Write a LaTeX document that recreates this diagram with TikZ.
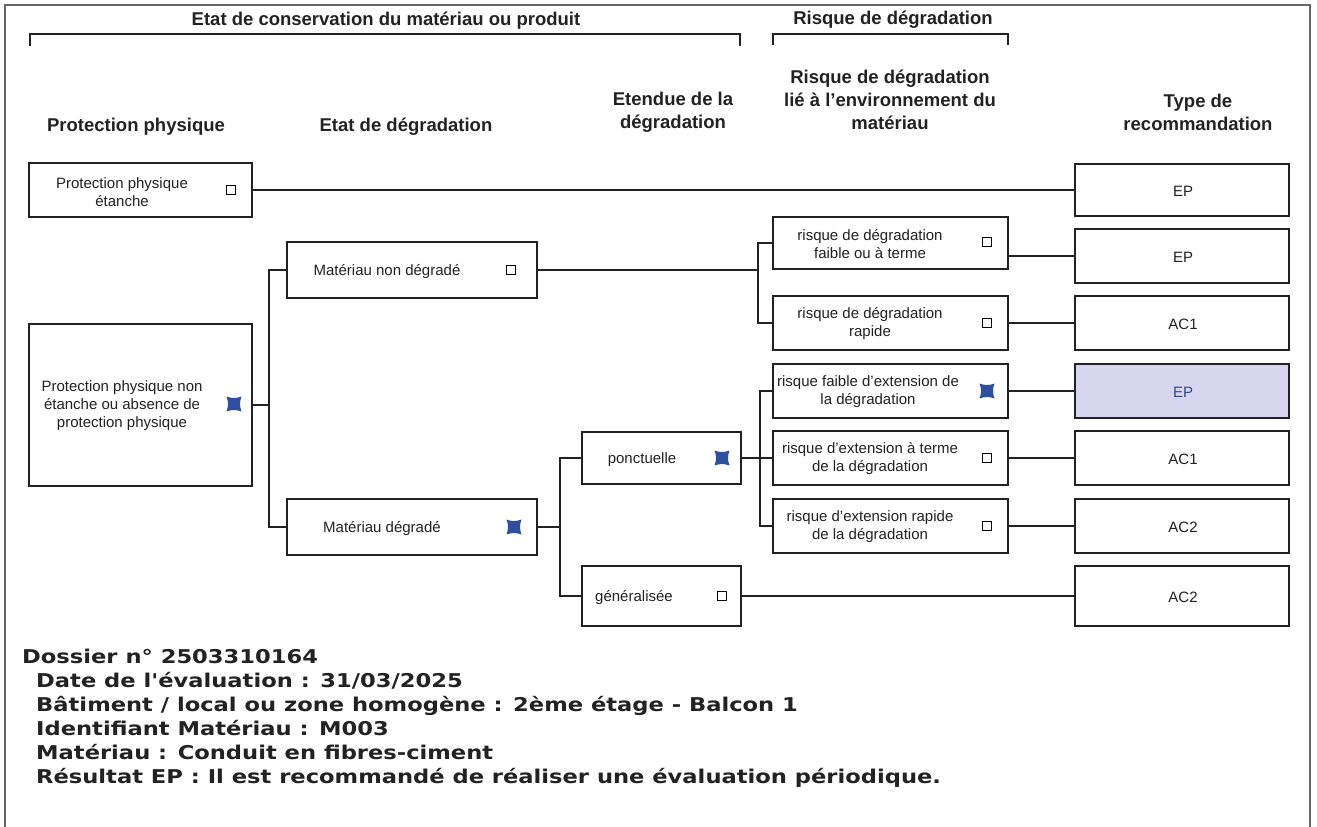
\documentclass[tikz,border=0pt]{standalone}
\usepackage{fontspec}
\setmainfont{Liberation Sans}
\newfontfamily\infofont[FakeStretch=1.19]{DejaVu Sans Bold}
\usetikzlibrary{calc}
\definecolor{ln}{HTML}{222222}
\definecolor{ckblue}{HTML}{2E4E9E}
\definecolor{hl}{HTML}{D8D5F0}
\definecolor{hltext}{HTML}{2C4A86}
\definecolor{framec}{HTML}{666666}
\tikzset{
  box/.style={draw=ln, line width=2pt, inner sep=0pt, fill=white},
  conn/.style={draw=ln, line width=2pt},
  brk/.style={draw=ln, line width=2pt},
  lbl/.style={font=\fontsize{15}{18}\selectfont, align=center, inner sep=0pt, text=ln},
  hdr/.style={font=\bfseries\fontsize{18.5}{23}\selectfont, align=center, inner sep=0pt, text=ln},
  cbox/.style={draw=black, line width=1.3pt, minimum size=9pt, inner sep=0pt, fill=white},
  info/.style={font=\infofont\fontsize{19}{20}\selectfont, anchor=base west, inner sep=0pt, text=ln},
  xmark/.pic={\fill[ckblue] (-7.5,-7.5) .. controls (-2.5,-5.5) and (2.5,-5.5) .. (7.5,-7.5)
     .. controls (5.5,-2.5) and (5.5,2.5) .. (7.5,7.5)
     .. controls (2.5,5.5) and (-2.5,5.5) .. (-7.5,7.5)
     .. controls (-5.5,2.5) and (-5.5,-2.5) .. (-7.5,-7.5) -- cycle;}
}
\begin{document}
\begin{tikzpicture}[x=1pt,y=-1pt]
\useasboundingbox (0,0) rectangle (1317,827);
\fill[white] (0,0) rectangle (1317,827);
\draw[framec, line width=1.2pt] (5,5) rectangle (1310,845);

% headers
\node[hdr] (h1) at (386,21) {Etat de conservation du matériau ou produit};
\node[hdr] (h2) at (893,20) {Risque de dégradation};
\draw[brk] (30,46) -- (30,34) -- (740,34) -- (740,46);
\draw[brk] (773,45) -- (773,34) -- (1008,34) -- (1008,45);
\node[hdr] (cA) at (136,127) {Protection physique};
\node[hdr] (cB) at (406,127) {Etat de dégradation};
\node[hdr] (cC) at (673,112) {Etendue de la\\dégradation};
\node[hdr] (cD) at (890,100) {Risque de dégradation\\lié à l'environnement du\\matériau};
\node[hdr] (cE) at (1198,112) {Type de\\recommandation};

% boxes column 1
\node[box, minimum width=223pt, minimum height=54pt] (A) at (140.5,190) {};
\node[lbl] (At) at (122,192) {Protection physique\\étanche};
\node[cbox] (kA) at (231,190) {};
\node[box, minimum width=223pt, minimum height=162pt] (B) at (140.5,405) {};
\node[lbl] (Bt) at (122,406) {Protection physique non\\étanche ou absence de\\protection physique};
\pic (mB) at (234,404) {xmark};

% column 2
\node[box, minimum width=250pt, minimum height=56pt] (C) at (412,270) {};
\node[lbl] (Ct) at (387,272) {Matériau non dégradé};
\node[cbox] (kC) at (511,270) {};
\node[box, minimum width=250pt, minimum height=56pt] (D) at (412,527) {};
\node[lbl] (Dt) at (382,529) {Matériau dégradé};
\pic (mD) at (514,527) {xmark};

% column 3
\node[box, minimum width=159pt, minimum height=52pt] (E) at (661.5,458) {};
\node[lbl] (Et) at (642,460) {ponctuelle};
\pic (mE) at (722,458) {xmark};
\node[box, minimum width=159pt, minimum height=60pt] (F) at (661.5,596) {};
\node[lbl] (Ft) at (634,598) {généralisée};
\node[cbox] (kF) at (722,596) {};

% column 4
\node[box, minimum width=235pt, minimum height=52pt] (G) at (890.5,243) {};
\node[lbl] (Gt) at (870,244) {risque de dégradation\\faible ou à terme};
\node[cbox] (kG) at (987,242) {};
\node[box, minimum width=235pt, minimum height=54pt] (H) at (890.5,323) {};
\node[lbl] (Ht) at (870,324) {risque de dégradation\\rapide};
\node[cbox] (kH) at (987,323) {};
\node[box, minimum width=235pt, minimum height=54pt] (I) at (890.5,391) {};
\node[lbl] (It) at (868,392) {risque faible d'extension de\\la dégradation};
\pic (mI) at (987,391) {xmark};
\node[box, minimum width=235pt, minimum height=54pt] (J) at (890.5,458) {};
\node[lbl] (Jt) at (870,459) {risque d'extension à terme\\de la dégradation};
\node[cbox] (kJ) at (987,458) {};
\node[box, minimum width=235pt, minimum height=54pt] (K) at (890.5,526) {};
\node[lbl] (Kt) at (870,527) {risque d'extension rapide\\de la dégradation};
\node[cbox] (kK) at (987,526) {};

% results
\node[box, minimum width=214pt, minimum height=52pt] (R1) at (1182,190) {};
\node[lbl] (R1t) at (1183,191) {EP};
\node[box, minimum width=214pt, minimum height=54pt] (R2) at (1182,256) {};
\node[lbl] (R2t) at (1183,257) {EP};
\node[box, minimum width=214pt, minimum height=54pt] (R3) at (1182,323) {};
\node[lbl] (R3t) at (1183,324) {AC1};
\node[box, fill=hl, minimum width=214pt, minimum height=54pt] (R4) at (1182,391) {};
\node[lbl, text=hltext] (R4t) at (1183,392) {EP};
\node[box, minimum width=214pt, minimum height=54pt] (R5) at (1182,458) {};
\node[lbl] (R5t) at (1183,459) {AC1};
\node[box, minimum width=214pt, minimum height=54pt] (R6) at (1182,526) {};
\node[lbl] (R6t) at (1183,527) {AC2};
\node[box, minimum width=214pt, minimum height=60pt] (R7) at (1182,596) {};
\node[lbl] (R7t) at (1183,597) {AC2};

% connectors
\coordinate (t1) at (269,0);
\coordinate (t2) at (758,0);
\coordinate (t3) at (560,0);
\coordinate (t4) at (760,0);
\draw[conn] (A.east) -- (A.east -| R1.west);
\draw[conn] (B.east) -- (B.east -| t1);
\draw[conn] (C.west) -- (C.west -| t1) -- (D.west -| t1) -- (D.west);
\draw[conn] (C.east) -- (C.east -| t2);
\draw[conn] (G.west) -- (G.west -| t2) -- (H.west -| t2) -- (H.west);
\draw[conn] (R2.west) -- (R2.west -| G.east);
\draw[conn] (H.east) -- (H.east -| R3.west);
\draw[conn] (D.east) -- (D.east -| t3);
\draw[conn] (E.west) -- (E.west -| t3) -- (F.west -| t3) -- (F.west);
\draw[conn] (E.east) -- (E.east -| t4);
\draw[conn] (I.west) -- (I.west -| t4) -- (K.west -| t4) -- (K.west);
\draw[conn] (J.west) -- (J.west -| t4);
\draw[conn] (I.east) -- (I.east -| R4.west);
\draw[conn] (J.east) -- (J.east -| R5.west);
\draw[conn] (K.east) -- (K.east -| R6.west);
\draw[conn] (F.east) -- (F.east -| R7.west);

% info text
\node[info] (i1) at (22,663) {Dossier n° 2503310164};
\node[info] (i2) at (36,687) {Date de l'évaluation : 31/03/2025};
\node[info] (i3) at (36,711) {Bâtiment / local ou zone homogène : 2ème étage - Balcon 1};
\node[info] (i4) at (36,735) {Identifiant Matériau : M003};
\node[info] (i5) at (36,759) {Matériau : Conduit en fibres-ciment};
\node[info] (i6) at (36,783) {Résultat EP : Il est recommandé de réaliser une évaluation périodique.};
\end{tikzpicture}
\end{document}
